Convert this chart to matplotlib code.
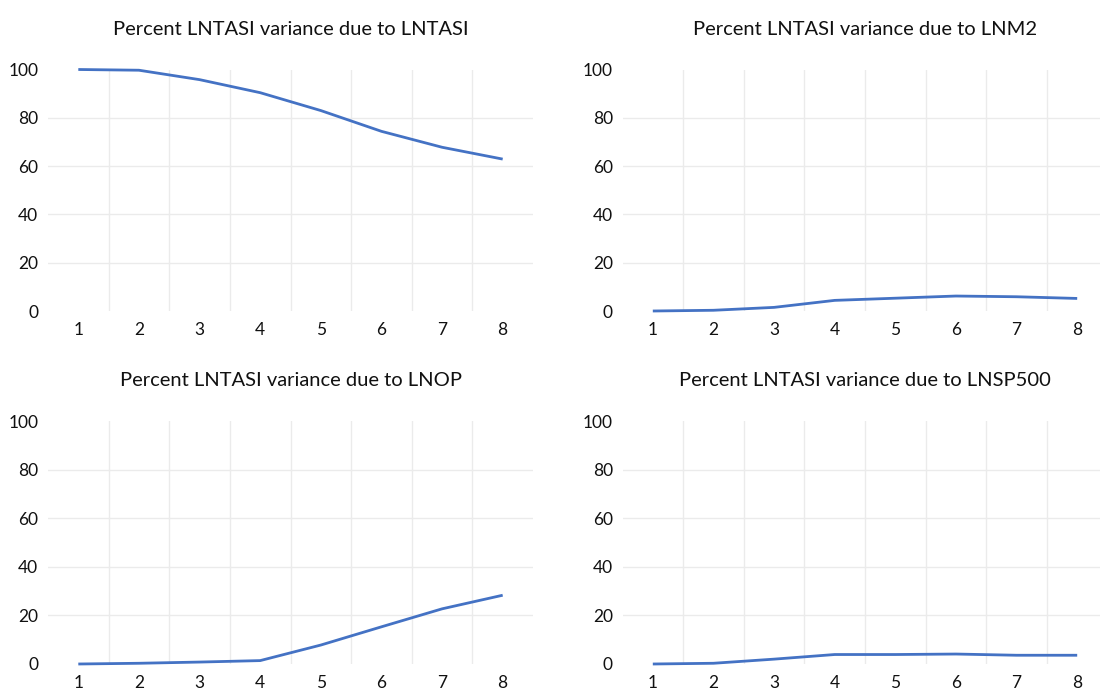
"""Variance decomposition of LNTASI, four small line panels."""

import matplotlib
matplotlib.use("Agg")
import matplotlib.pyplot as plt

plt.rcParams["font.family"] = ["Lato", "DejaVu Sans"]

horizon = [1, 2, 3, 4, 5, 6, 7, 8]
due_lntasi = [100.0, 99.7, 95.8, 90.4, 83.0, 74.4, 67.8, 62.9]
due_lnm2 = [0.0, 0.3, 1.5, 4.4, 5.3, 6.2, 5.9, 5.2]
due_lnop = [0.0, 0.3, 0.8, 1.4, 7.8, 15.3, 22.7, 28.3]
due_lnsp500 = [0.0, 0.3, 2.0, 3.9, 3.9, 4.1, 3.6, 3.6]

titles = [
    "Percent LNTASI variance due to LNTASI",
    "Percent LNTASI variance due to LNM2",
    "Percent LNTASI variance due to LNOP",
    "Percent LNTASI variance due to LNSP500",
]
series = [due_lntasi, due_lnm2, due_lnop, due_lnsp500]

W, H = 1100, 691
fig = plt.figure(figsize=(W / 100, H / 100), dpi=100)

# axes boxes in pixels: left, top, width, height
boxes = [
    (48, 69.5, 485, 241.5),
    (622.5, 69.5, 485, 241.5),
    (48, 421, 485, 243),
    (622.5, 421, 485, 243),
]

line_color = "#4472C4"
grid_color = "#EBEBEB"

for (left, top, w, h), ys, title in zip(boxes, series, titles):
    ax = fig.add_axes([left / W, 1 - (top + h) / H, w / W, h / H])
    ax.set_xlim(0.5, 8.5)
    ax.set_ylim(0, 100)
    for x in range(1, 8):
        ax.axvline(x + 0.5, color=grid_color, lw=1, zorder=0)
    for y in (20, 40, 60, 80):
        ax.axhline(y, color=grid_color, lw=1, zorder=0)
    ax.plot(horizon, ys, color=line_color, lw=2.0, solid_capstyle="butt", clip_on=False)
    for s in ax.spines.values():
        s.set_visible(False)
    ax.set_xticks(horizon)
    ax.set_yticks([0, 20, 40, 60, 80, 100])
    ax.tick_params(length=0, labelsize=12.5, colors="#111111")
    ax.tick_params(axis="x", pad=8)
    ax.tick_params(axis="y", pad=7)
    ax.set_title(title, fontsize=14.5, color="#111111", pad=25)

fig.savefig("out.png", dpi=100)
